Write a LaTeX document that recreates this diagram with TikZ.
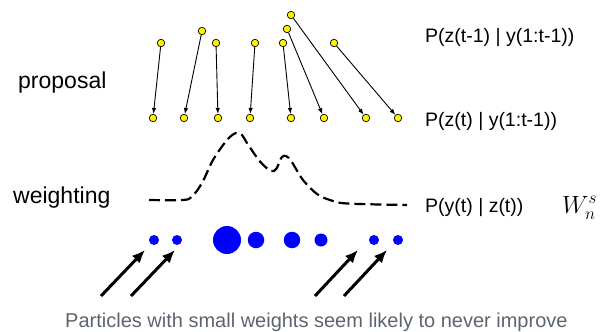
\documentclass[tikz,border=0pt]{standalone}
\usepackage{fontspec}
\setmainfont{Liberation Sans}
\usetikzlibrary{arrows.meta}
\definecolor{captiongray}{RGB}{92,100,112}
\begin{document}
\begin{tikzpicture}[x=1pt,y=-1pt,
  particle/.style={circle,draw=black,line width=0.7pt,fill=yellow,inner sep=0pt,minimum size=7.5pt},
  move/.style={-{Latex[length=6pt,width=4.5pt]},line width=0.9pt},
  wdot/.style={circle,fill=blue,inner sep=0pt,minimum size=#1},
  pointer/.style={-{Latex[length=13pt,width=11pt]},line width=3pt},
  density/.style={line width=2.2pt,dash pattern=on 11pt off 5pt},
  lab/.style={font=\fontsize{19.5}{22}\selectfont,anchor=base west,inner sep=0pt},
  side/.style={font=\fontsize{23}{26}\selectfont,anchor=base west,inner sep=0pt}]
\useasboundingbox (0,0) rectangle (603,332);

% particles before the proposal step
\node[particle] (t1) at (161,43) {};
\node[particle] (t2) at (202,31) {};
\node[particle] (t3) at (216,43) {};
\node[particle] (t4) at (255,43) {};
\node[particle] (t5) at (283,43) {};
\node[particle] (t6) at (287,29) {};
\node[particle] (t7) at (291,15) {};
\node[particle] (t8) at (334,43) {};

% particles after the proposal step
\node[particle] (b1) at (153,118) {};
\node[particle] (b2) at (184,118) {};
\node[particle] (b3) at (218,118) {};
\node[particle] (b4) at (250,118) {};
\node[particle] (b5) at (291,118) {};
\node[particle] (b6) at (324,118) {};
\node[particle] (b7) at (366,118) {};
\node[particle] (b8) at (398,118) {};

\foreach \i in {1,...,8} \draw[move] (t\i) -- (b\i);

% likelihood curve
\draw[density] plot[smooth,tension=0.55] coordinates {
  (149,200) (183,200) (192,196.5) (202,183) (213,160) (227,140) (236,133)
  (242,135) (247,143) (260,161.5) (271,171) (276.5,168.5) (281.5,157.5)
  (286,156) (291.5,161.5) (303,180) (317,194) (330,200) (347,203.5) (407,205)};

% weighted particles
\node[wdot=10pt] (w1) at (154,240) {};
\node[wdot=10pt] (w2) at (177,240) {};
\node[wdot=28pt] (w3) at (227,240) {};
\node[wdot=16.5pt] (w4) at (256,240) {};
\node[wdot=16.5pt] (w5) at (292,240) {};
\node[wdot=13pt] (w6) at (321,240) {};
\node[wdot=10pt] (w7) at (374,240) {};
\node[wdot=10pt] (w8) at (398,240) {};

% pointers to the low-weight particles
\coordinate (s1) at (101,296); \coordinate (e1) at (145,250);
\coordinate (s2) at (131,296); \coordinate (e2) at (175,250);
\coordinate (s3) at (315,296); \coordinate (e3) at (358,250);
\coordinate (s4) at (344,296); \coordinate (e4) at (387,250);
\foreach \i in {1,...,4} \draw[pointer] (s\i) -- (e\i);

% labels
\node[side] (lprop) at (18,88) {proposal};
\node[side] (lweight) at (13,203) {weighting};
\node[lab] (lprior) at (425,42) {P(z(t-1) | y(1:t-1))};
\node[lab] (lpred) at (425,126) {P(z(t) | y(1:t-1))};
\node[lab] (llik) at (425,212) {P(y(t) | z(t))};
\node[anchor=base west,inner sep=0pt,font=\fontsize{24}{26}\selectfont] (lw) at (562,213) {$W_n^s$};
\node[anchor=base west,inner sep=0pt,text=captiongray,font=\fontsize{20}{24}\selectfont] (cap) at (65,327)
  {Particles with small weights seem likely to never improve};
\end{tikzpicture}
\end{document}
